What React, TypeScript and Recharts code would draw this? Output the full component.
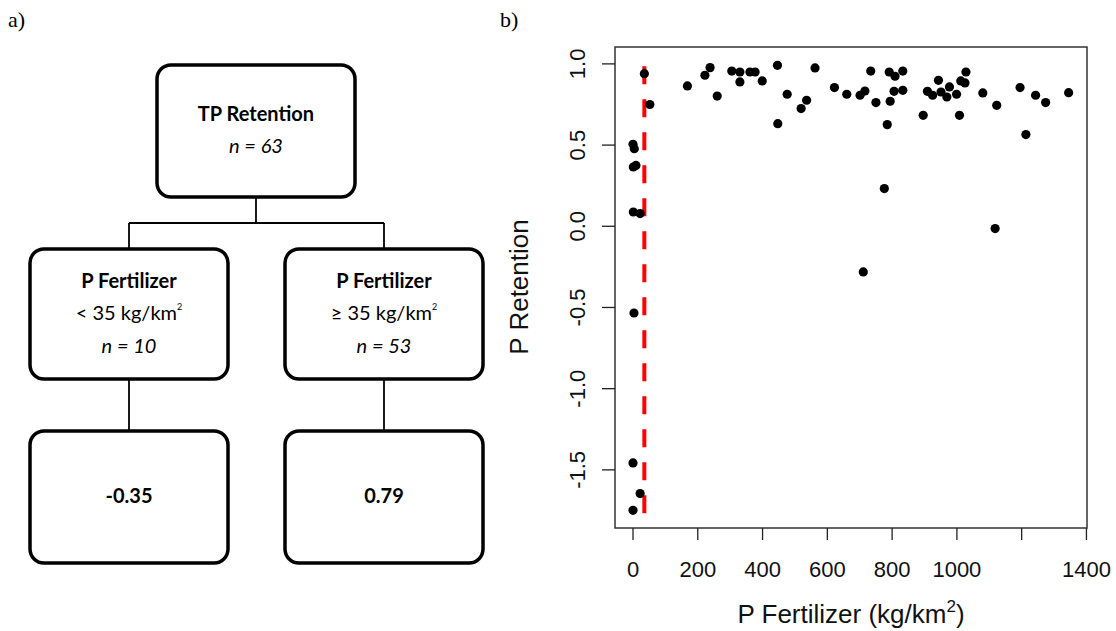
import { ScatterChart, Scatter, XAxis, YAxis, ReferenceLine, ReferenceArea } from 'recharts';

// P fertilizer (kg/km2) and TP retention for the 63 sites
const fertilizer = [
  0, 4, 1, 9, 1, 22, 3, 0, 22, 0,
  35, 52, 168, 222, 238, 260, 305, 330, 330, 361,
  377, 399, 446, 447, 476, 519, 536, 562, 622, 660,
  701, 711, 716, 734, 750, 776, 785, 791, 794, 806,
  809, 833, 833, 896, 909, 925, 943, 951, 969, 977,
  999, 1008, 1012, 1025, 1028, 1080, 1118, 1123, 1195, 1213,
  1243, 1274, 1345,
];
const retention = [
  0.505, 0.478, 0.365, 0.375, 0.088, 0.078, -0.534, -1.457, -1.646, -1.749,
  0.94, 0.75, 0.864, 0.93, 0.977, 0.802, 0.956, 0.95, 0.889, 0.95,
  0.95, 0.895, 0.991, 0.632, 0.813, 0.725, 0.776, 0.975, 0.854, 0.813,
  0.807, -0.281, 0.833, 0.956, 0.762, 0.232, 0.626, 0.95, 0.77, 0.831,
  0.924, 0.956, 0.837, 0.683, 0.831, 0.807, 0.899, 0.827, 0.796, 0.858,
  0.813, 0.683, 0.895, 0.883, 0.95, 0.821, -0.014, 0.745, 0.854, 0.565,
  0.807, 0.762, 0.823,
];

const splitValue = 35;
const splitSpan = [-1.767, 1.005];

const xTicks = [0, 200, 400, 600, 800, 1000, 1200, 1400];
const xTickLabels = ['0', '200', '400', '600', '800', '1000', '', '1400'];
const yTicks = [-1.5, -1.0, -0.5, 0.0, 0.5, 1.0];

const xDomain = [-55.6, 1401.7];
const yDomain = [-1.858, 1.104];

// regression tree text
const rootLabel = ['TP Retention', 'n = 63'];
const splitTitles = ['P Fertilizer', 'P Fertilizer'];
const splitRules = ['< 35 kg/km', '\u2265 35 kg/km'];
const splitCounts = ['n = 10', 'n = 53'];
const leafMeans = ['-0.35', '0.79'];

const points = fertilizer.map((x, i) => ({ x, y: retention[i] }));

const SANS = '"Liberation Sans", Arial, sans-serif';
const TREE = 'Lato, "Noto Sans", sans-serif';
const SERIF = '"Liberation Serif", "Times New Roman", serif';

const XTick = ({ x, y, payload }: any) => {
  const i = xTicks.indexOf(payload.value);
  return (
    <text x={x} y={y + 37} textAnchor="middle" fontSize={22} fontFamily={SANS} fill="#111">
      {xTickLabels[i]}
    </text>
  );
};

const YTick = ({ x, y, payload }: any) => {
  const tx = x - 17;
  return (
    <text x={tx} y={y} transform={`rotate(-90 ${tx} ${y})`} textAnchor="middle" fontSize={22} fontFamily={SANS} fill="#111">
      {payload.value.toFixed(1)}
    </text>
  );
};

const Dot = (p: any) => <circle cx={p.cx} cy={p.cy} r={4.6} fill="#000" />;

function Box({ x, y, w, h }: { x: number; y: number; w: number; h: number }) {
  return <rect x={x} y={y} width={w} height={h} rx={14} ry={14} fill="#fff" stroke="#000" strokeWidth={3.5} />;
}

function Tree() {
  const cols = [129, 384];
  return (
    <g fontFamily={TREE} fill="#000">
      {/* connectors */}
      <g stroke="#000" strokeWidth={1.8}>
        <line x1={256} y1={197} x2={256} y2={223} />
        <line x1={cols[0]} y1={223} x2={cols[1]} y2={223} />
        <line x1={cols[0]} y1={223} x2={cols[0]} y2={249} />
        <line x1={cols[1]} y1={223} x2={cols[1]} y2={249} />
        <line x1={cols[0]} y1={379} x2={cols[0]} y2={431} />
        <line x1={cols[1]} y1={379} x2={cols[1]} y2={431} />
      </g>
      <Box x={157} y={65} w={198} h={132} />
      <text x={256} y={121} textAnchor="middle" fontSize={20} fontWeight="bold">{rootLabel[0]}</text>
      <text x={256} y={153} textAnchor="middle" fontSize={20} fontStyle="italic">{rootLabel[1]}</text>
      {cols.map((cx, i) => (
        <g key={i}>
          <Box x={cx - 99} y={249} w={198} h={130} />
          <text x={cx} y={288} textAnchor="middle" fontSize={20} fontWeight="bold">{splitTitles[i]}</text>
          <text x={cx} y={320} textAnchor="middle" fontSize={20}>
            {splitRules[i]}
            <tspan dy={-10} fontSize={9}>2</tspan>
          </text>
          <text x={cx} y={353} textAnchor="middle" fontSize={20} fontStyle="italic">{splitCounts[i]}</text>
          <Box x={cx - 99} y={431} w={198} h={132} />
          <text x={cx} y={503} textAnchor="middle" fontSize={20} fontWeight="bold">{leafMeans[i]}</text>
        </g>
      ))}
    </g>
  );
}

export default function App() {
  return (
    <div style={{ position: 'absolute', left: 0, top: 0, width: 1116, height: 631, background: '#fff' }}>
      <div style={{ position: 'absolute', left: 0, top: 0 }}>
        <ScatterChart width={1116} height={631} margin={{ top: 47, right: 29, bottom: 0, left: 0 }}>
          <XAxis
            type="number"
            dataKey="x"
            domain={xDomain}
            ticks={xTicks}
            interval={0}
            allowDataOverflow
            height={103}
            axisLine={false}
            tickSize={12}
            tickMargin={0}
            tickLine={{ stroke: '#222', strokeWidth: 1.3 }}
            tick={<XTick />}
          />
          <YAxis
            type="number"
            dataKey="y"
            domain={yDomain}
            ticks={yTicks}
            interval={0}
            allowDataOverflow
            width={615}
            axisLine={false}
            tickSize={13}
            tickMargin={0}
            tickLine={{ stroke: '#222', strokeWidth: 1.3 }}
            tick={<YTick />}
          />
          <ReferenceArea
            x1={xDomain[0]}
            x2={xDomain[1]}
            y1={yDomain[0]}
            y2={yDomain[1]}
            fill="none"
            stroke="#333"
            strokeWidth={1.5}
            ifOverflow="visible"
          />
          <Scatter data={points} shape={<Dot />} isAnimationActive={false} />
          <ReferenceLine
            segment={[{ x: splitValue, y: splitSpan[0] }, { x: splitValue, y: splitSpan[1] }]}
            stroke="#f00"
            strokeWidth={4}
            strokeDasharray="18 15"
          />
        </ScatterChart>
      </div>
      <svg width={1116} height={631} style={{ position: 'absolute', left: 0, top: 0, pointerEvents: 'none' }}>
        <text x={8} y={27} fontSize={22} fontFamily={SERIF}>a)</text>
        <text x={500} y={27} fontSize={22} fontFamily={SERIF}>b)</text>
        <Tree />
        <text x={851} y={623} textAnchor="middle" fontSize={26} fontFamily={SANS} fill="#111">
          P Fertilizer (kg/km<tspan dy={-11} fontSize={17}>2</tspan>
          <tspan dy={11}>)</tspan>
        </text>
        <text x={528} y={287} transform="rotate(-90 528 287)" textAnchor="middle" fontSize={26} fontFamily={SANS} fill="#111">
          P Retention
        </text>
      </svg>
    </div>
  );
}
